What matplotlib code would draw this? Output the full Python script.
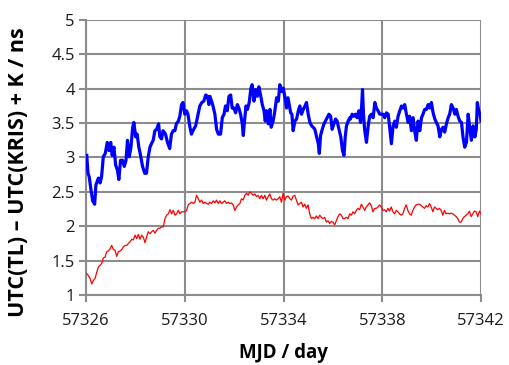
import numpy as np
import matplotlib
matplotlib.use("Agg")
import matplotlib.pyplot as plt

# UTC(TL) - UTC(KRIS) + K, blue: thick trace (day offsets from 57326)
blue_day = [
    0.03, 0.08, 0.13, 0.20, 0.27, 0.35, 0.40, 0.50, 0.57, 0.63, 0.70, 0.78, 0.86, 0.93,
    1.00, 1.06, 1.13, 1.20, 1.27, 1.33, 1.40, 1.48, 1.55, 1.62, 1.68, 1.75, 1.82, 1.89,
    1.94, 2.01, 2.07, 2.14, 2.21, 2.29, 2.38, 2.45, 2.52, 2.59, 2.65, 2.72, 2.79, 2.86,
    2.94, 2.99, 3.06, 3.12, 3.22, 3.30, 3.39, 3.46, 3.53, 3.60, 3.66, 3.74, 3.80, 3.87,
    3.93, 4.00, 4.07, 4.13, 4.20, 4.27, 4.36, 4.44, 4.54, 4.61, 4.69, 4.77, 4.85, 4.92,
    4.98,
    5.02, 5.13, 5.22, 5.29, 5.36, 5.45, 5.52, 5.59, 5.65, 5.72, 5.79, 5.86, 5.92, 5.99,
    6.06, 6.13, 6.19, 6.26, 6.33, 6.37, 6.42, 6.48, 6.54, 6.61, 6.68, 6.73, 6.80, 6.87,
    6.94, 7.00, 7.07, 7.14, 7.21, 7.26, 7.31, 7.38, 7.45, 7.50, 7.58, 7.65, 7.72, 7.79,
    7.85, 7.92, 7.99, 8.06, 8.12, 8.18, 8.23, 8.29, 8.34, 8.39, 8.46, 8.53, 8.60, 8.66,
    8.73, 8.80, 8.87, 8.93, 9.00, 9.07, 9.14, 9.20, 9.27, 9.34, 9.41, 9.45, 9.50, 9.57,
    9.64, 9.70, 9.77, 9.84, 9.91, 9.97, 10.04, 10.11, 10.17, 10.26, 10.32, 10.39, 10.45,
    10.50, 10.55, 10.62, 10.69,
    10.71, 10.78, 10.85, 10.91, 10.98, 11.05, 11.12, 11.16, 11.20, 11.24, 11.29, 11.36,
    11.43, 11.49, 11.56, 11.63, 11.70, 11.76, 11.83, 11.90, 11.97, 12.03, 12.10, 12.17,
    12.24, 12.30, 12.37, 12.44, 12.51, 12.57, 12.64, 12.71, 12.78, 12.84, 12.91, 12.98,
    13.05, 13.11, 13.18, 13.25, 13.32, 13.38, 13.45, 13.52, 13.59, 13.65, 13.72, 13.79,
    13.86, 13.92, 13.99, 14.06, 14.13, 14.19, 14.26, 14.33, 14.40, 14.46, 14.53, 14.60,
    14.67, 14.73, 14.80, 14.87, 14.94, 15.00, 15.07, 15.14, 15.21, 15.27, 15.34, 15.41,
    15.48, 15.54, 15.61, 15.68, 15.75, 15.81, 15.85, 15.91, 15.96, 16.00,
]
blue_val = [
    3.03, 2.77, 2.72, 2.53, 2.37, 2.32, 2.60, 2.70, 2.63, 2.72, 3.01, 3.06, 3.22, 3.10,
    3.22, 3.03, 3.15, 2.89, 2.82, 2.68, 2.96, 2.96, 2.87, 2.96, 3.25, 3.01, 3.15, 3.44,
    3.51, 3.30, 3.34, 3.15, 3.03, 2.87, 2.77, 2.77, 3.01, 3.15, 3.20, 3.25, 3.39, 3.41,
    3.49, 3.30, 3.27, 3.39, 3.34, 3.22, 3.13, 3.34, 3.39, 3.39, 3.49, 3.53, 3.60, 3.77,
    3.80, 3.63, 3.68, 3.63, 3.46, 3.34, 3.41, 3.46, 3.63, 3.75, 3.80, 3.82, 3.91, 3.89,
    3.77,
    3.89, 3.77, 3.63, 3.41, 3.34, 3.34, 3.58, 3.63, 3.75, 3.68, 3.89, 3.91, 3.72, 3.72,
    3.65, 3.77, 3.72, 3.63, 3.49, 3.32, 3.53, 3.75, 3.70, 3.80, 4.01, 4.06, 3.82, 3.99,
    3.89, 4.03, 3.91, 3.77, 3.68, 3.53, 3.68, 3.49, 3.70, 3.44, 3.53, 3.68, 3.87, 3.82,
    4.06, 3.96, 4.01, 3.87, 3.72, 3.87, 3.77, 3.65, 3.63, 3.39, 3.53, 3.56, 3.68, 3.75,
    3.63, 3.70, 3.75, 3.80, 3.63, 3.51, 3.46, 3.44, 3.41, 3.30, 3.20, 3.06, 3.32, 3.41,
    3.49, 3.53, 3.58, 3.63, 3.60, 3.41, 3.49, 3.56, 3.53, 3.39, 3.30, 3.10, 3.03,
    3.30, 3.46, 3.53, 3.58,
    3.56, 3.63, 3.60, 3.63, 3.58, 3.68, 3.51, 3.72, 3.99, 3.63, 3.39, 3.22,
    3.46, 3.60, 3.63, 3.58, 3.80, 3.72, 3.68, 3.63, 3.63, 3.63, 3.58, 3.65,
    3.63, 3.44, 3.20, 3.46, 3.53, 3.44, 3.60, 3.68, 3.75, 3.72, 3.77, 3.63,
    3.51, 3.60, 3.39, 3.58, 3.37, 3.25, 3.53, 3.39, 3.58, 3.63, 3.70, 3.70,
    3.77, 3.72, 3.80, 3.65, 3.56, 3.51, 3.46, 3.30, 3.41, 3.44, 3.37, 3.49,
    3.58, 3.63, 3.77, 3.72, 3.63, 3.70, 3.60, 3.53, 3.51, 3.30, 3.15, 3.22,
    3.63, 3.44, 3.25, 3.46, 3.30, 3.41, 3.80, 3.68, 3.63, 3.53,
]

# red: thin trace, sampled on a regular grid
red_start = 57326.03
red_step = 0.0674
red_val = [
    1.31, 1.28, 1.24, 1.16, 1.21, 1.24, 1.33, 1.41, 1.43, 1.46, 1.54, 1.55, 1.63, 1.64,
    1.67, 1.72, 1.66, 1.65, 1.56, 1.63, 1.64, 1.66, 1.70, 1.72, 1.72, 1.75, 1.77, 1.81,
    1.80, 1.87, 1.82, 1.88, 1.81, 1.87, 1.84, 1.76, 1.85, 1.92, 1.89, 1.92, 1.94, 1.90,
    1.94, 1.97, 1.97, 1.99, 1.99, 2.11, 2.16, 2.18, 2.24, 2.18, 2.23, 2.16, 2.18, 2.23,
    2.18, 2.21, 2.21, 2.21, 2.23, 2.31, 2.33, 2.35, 2.33, 2.35, 2.45, 2.40, 2.35, 2.38,
    2.33, 2.35, 2.33, 2.32, 2.35, 2.33, 2.37, 2.34, 2.38, 2.33, 2.37, 2.33, 2.35, 2.37,
    2.33, 2.35, 2.33, 2.34, 2.31, 2.23, 2.28, 2.31, 2.33, 2.40, 2.38, 2.45, 2.48, 2.45,
    2.50, 2.48, 2.45, 2.47, 2.43, 2.45, 2.40, 2.45, 2.40, 2.45, 2.38, 2.43, 2.47, 2.40,
    2.38, 2.40, 2.38, 2.40, 2.43, 2.35, 2.48, 2.38, 2.43, 2.44,
    2.40, 2.38, 2.44, 2.45, 2.38, 2.31, 2.33, 2.35, 2.28, 2.32, 2.26, 2.31, 2.18, 2.11,
    2.13, 2.11, 2.15, 2.11, 2.16, 2.13, 2.11, 2.13, 2.06, 2.08, 2.04, 2.07, 2.06, 2.02,
    2.08, 2.14, 2.18, 2.16, 2.11, 2.11, 2.13, 2.11, 2.18, 2.16, 2.21, 2.18, 2.23, 2.26,
    2.24, 2.32, 2.28, 2.23, 2.28, 2.31, 2.34, 2.30, 2.21, 2.26, 2.26, 2.28, 2.31, 2.28,
    2.23, 2.24, 2.21, 2.26, 2.22, 2.28, 2.21, 2.18, 2.23, 2.21, 2.18, 2.16, 2.18, 2.26,
    2.31, 2.23, 2.18, 2.16, 2.23, 2.28, 2.31, 2.32, 2.32, 2.30, 2.28, 2.26, 2.30, 2.28,
    2.33, 2.28, 2.21, 2.28, 2.26, 2.24, 2.26, 2.23, 2.16, 2.23, 2.18, 2.19, 2.18, 2.19,
    2.18, 2.16, 2.14, 2.11, 2.06, 2.06, 2.11, 2.14, 2.16, 2.18, 2.22, 2.14, 2.18, 2.22,
    2.21, 2.14, 2.22, 2.18,
]

x_ticks = [57326, 57330, 57334, 57338, 57342]
y_ticks = [1, 1.5, 2, 2.5, 3, 3.5, 4, 4.5, 5]
y_labels = ["1", "1.5", "2", "2.5", "3", "3.5", "4", "4.5", "5"]

plt.rcParams["font.family"] = ["Open Sans", "DejaVu Sans"]

fig = plt.figure(figsize=(5.09, 3.65), dpi=100)
ax = fig.add_axes([0.169, 0.192, 0.776, 0.753])

grid_color = "#8c8c8c"

blue_mjd = 57326 + np.array(blue_day)
red_mjd = red_start + red_step * np.arange(len(red_val))

ax.plot(red_mjd, red_val, color="#ff0000", linewidth=0.9, zorder=3)
ax.plot(blue_mjd, blue_val, color="#0000ff", linewidth=2.3, zorder=4)

ax.set_xlim(57326, 57342)
ax.set_ylim(1, 5)
ax.set_xticks(x_ticks)
ax.set_xticklabels([str(t) for t in x_ticks])
ax.set_yticks(y_ticks)
ax.set_yticklabels(y_labels)

ax.grid(True, color=grid_color, linewidth=1.5, zorder=1)
ax.set_axisbelow(True)
for side in ["top", "right"]:
    ax.spines[side].set_visible(False)
for side in ["left", "bottom"]:
    ax.spines[side].set_color(grid_color)
    ax.spines[side].set_linewidth(1.5)

ax.tick_params(axis="both", direction="out", length=5, width=1.5,
               color=grid_color, labelsize=12, labelcolor="#1a1a1a")
ax.tick_params(axis="x", pad=8)
ax.tick_params(axis="y", pad=3)

ax.set_xlabel("MJD / day", fontsize=13.5, fontweight="bold", labelpad=10)
ax.set_ylabel("UTC(TL) \u2013 UTC(KRIS) + K / ns", fontsize=15.5,
              fontweight="bold")
ax.yaxis.set_label_coords(-0.145, 0.445)

fig.savefig("out.png", dpi=100)
